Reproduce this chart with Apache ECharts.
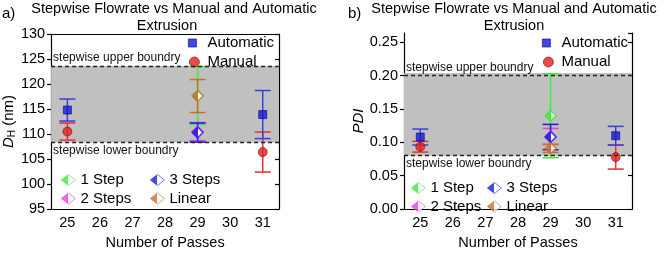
<!DOCTYPE html>
<html>
<head>
<meta charset="utf-8">
<script src="https://cdn.jsdelivr.net/npm/echarts@6/dist/echarts.min.js"></script>
<style>
  html, body { margin: 0; padding: 0; background: #fff; }
  #chart { width: 666px; height: 255px; }
</style>
</head>
<body>
<div id="chart"></div>
<script>
// x axis categories (number of passes)
const xCats = ["25", "26", "27", "28", "29", "30", "31"];

// panel a) hydrodynamic diameter D_H (nm)
const autoPasses = [25, 31];
const autoDH = [114.8, 113.9];
const autoDHErr = [2.2, 4.8];
const manualPasses = [25, 31];
const manualDH = [110.5, 106.4];
const manualDHErr = [1.7, 4.0];
const stepPasses = [29];
const step1DH = [117.7];
const step1DHErr = [5.8];
const step2DH = [110.5];
const step2DHErr = [1.8];
const step3DH = [110.3];
const step3DHErr = [1.9];
const linearDH = [117.6];
const linearDHErr = [3.3];
const boundsDH = [108.3, 123.6];

// panel b) PDI
const autoPDI = [0.108, 0.110];
const autoPDIErr = [0.012, 0.014];
const manualPDI = [0.0935, 0.078];
const manualPDIErr = [0.008, 0.018];
const step1PDI = [0.140];
const step1PDIErr = [0.063];
const step2PDI = [0.109];
const step2PDIErr = [0.012];
const step3PDI = [0.108];
const step3PDIErr = [0.019];
const linearPDI = [0.091];
const linearPDIErr = [0.006];
const boundsPDI = [0.080, 0.204];

const FONT = '"Liberation Sans", Arial, sans-serif';
const C = {
  auto: "#1818d8", autoErr: "#3c3ce0",
  manual: "#e41e1e", manualErr: "#e83030",
  s1: "#3cec3c", s2: "#f03cf0", s3: "#1c1ce6", lin: "#c8702a",
  band: "#c0c0c0"
};

const chart = echarts.init(document.getElementById("chart"));

function idx(p) { return xCats.indexOf(String(p)); }

function halfFill(c) {
  return new echarts.graphic.LinearGradient(0, 0, 1, 0, [
    { offset: 0, color: c }, { offset: 0.5, color: c },
    { offset: 0.5, color: "#fff" }, { offset: 1, color: "#fff" }
  ]);
}

function errSeries(name, passes, vals, errs, color, gi) {
  return {
    type: "custom",
    name: name + " err",
    xAxisIndex: gi * 2,
    yAxisIndex: gi * 2,
    silent: true,
    data: passes.map(function (p, i) { return [idx(p), vals[i] - errs[i], vals[i] + errs[i]]; }),
    encode: { x: 0, y: [1, 2] },
    renderItem: function (params, api) {
      var x = api.value(0);
      var a = api.coord([x, api.value(1)]);
      var b = api.coord([x, api.value(2)]);
      var w = 8;
      var st = { stroke: color, lineWidth: 1.5 };
      return {
        type: "group",
        children: [
          { type: "line", shape: { x1: a[0], y1: a[1], x2: b[0], y2: b[1] }, style: st },
          { type: "line", shape: { x1: a[0] - w, y1: a[1], x2: a[0] + w, y2: a[1] }, style: st },
          { type: "line", shape: { x1: b[0] - w, y1: b[1], x2: b[0] + w, y2: b[1] }, style: st }
        ]
      };
    }
  };
}

function markSeries(name, passes, vals, symbol, size, itemStyle, gi) {
  return {
    type: "scatter",
    name: name,
    xAxisIndex: gi * 2,
    yAxisIndex: gi * 2,
    symbol: symbol,
    symbolSize: size,
    itemStyle: itemStyle,
    data: passes.map(function (p, i) { return [idx(p), vals[i]]; })
  };
}

function bandSeries(bounds, gi) {
  return {
    type: "scatter",
    name: "band" + gi,
    xAxisIndex: gi * 2,
    yAxisIndex: gi * 2,
    data: [],
    z: 1,
    silent: true,
    markArea: {
      silent: true,
      itemStyle: { color: C.band },
      data: [[{ yAxis: bounds[0] }, { yAxis: bounds[1] }]]
    },
    markLine: {
      silent: true,
      symbol: "none",
      lineStyle: { color: "#222", type: [4, 3], width: 1.4 },
      data: [
        { yAxis: bounds[1], label: { position: "insideStartTop", formatter: "stepwise upper boundry", distance: [2, 2] } },
        { yAxis: bounds[0], label: { position: "insideStartBottom", formatter: "stepwise lower boundry", distance: [2, 2] } }
      ],
      label: { color: "#111", fontSize: 12, fontFamily: FONT }
    }
  };
}

function panelSeries(gi, d) {
  return [
    bandSeries(d.bounds, gi),
    errSeries("1 Step", stepPasses, d.s1, d.s1e, C.s1, gi),
    errSeries("2 Steps", stepPasses, d.s2, d.s2e, C.s2, gi),
    errSeries("3 Steps", stepPasses, d.s3, d.s3e, C.s3, gi),
    errSeries("Linear", stepPasses, d.lin, d.line, C.lin, gi),
    errSeries("Manual", manualPasses, d.man, d.mane, C.manualErr, gi),
    errSeries("Automatic", autoPasses, d.auto, d.autoe, C.autoErr, gi),
    markSeries("1 Step", stepPasses, d.s1, "diamond", 11, { color: halfFill(C.s1), borderColor: C.s1, borderWidth: 1.5 }, gi),
    markSeries("2 Steps", stepPasses, d.s2, "diamond", 11, { color: halfFill(C.s2), borderColor: C.s2, borderWidth: 1.5 }, gi),
    markSeries("3 Steps", stepPasses, d.s3, "diamond", 11, { color: halfFill(C.s3), borderColor: C.s3, borderWidth: 1.5 }, gi),
    markSeries("Linear", stepPasses, d.lin, "diamond", 11, { color: halfFill(C.lin), borderColor: C.lin, borderWidth: 1.5 }, gi),
    markSeries("Manual", manualPasses, d.man, "circle", 9, { color: C.manual, borderColor: "#8a0a0a", borderWidth: 0.8 }, gi),
    markSeries("Automatic", autoPasses, d.auto, "rect", 8, { color: C.auto, borderColor: "#0a0a80", borderWidth: 0.8 }, gi)
  ];
}

const axisText = { color: "#000", fontSize: 14.5, fontFamily: FONT };
const black = { color: "#000", width: 1.2 };

function xAxes(gi) {
  return [
    {
      type: "category", gridIndex: gi, data: xCats, boundaryGap: true,
      axisLine: { lineStyle: black },
      axisTick: { alignWithLabel: true, length: 4, lineStyle: black },
      axisLabel: Object.assign({ margin: 6 }, axisText),
      splitLine: { show: false },
      name: "Number of Passes", nameLocation: "middle", nameGap: 21,
      nameTextStyle: axisText
    },
    {
      type: "category", gridIndex: gi, data: xCats, boundaryGap: true, position: "top",
      axisLine: { lineStyle: black },
      axisTick: { alignWithLabel: true, inside: true, length: 4, lineStyle: black },
      axisLabel: { show: false }, splitLine: { show: false }
    }
  ];
}

function yAxes(gi, min, max, interval, fmt, name, nameGap, nameStyle) {
  return [
    {
      type: "value", gridIndex: gi, min: min, max: max, interval: interval,
      axisLine: { show: true, lineStyle: black },
      axisTick: { show: true, length: 4, lineStyle: black },
      axisLabel: Object.assign({ margin: 6, formatter: fmt, showMaxLabel: max % interval === 0 }, axisText),
      splitLine: { show: false },
      name: name, nameLocation: "middle", nameGap: nameGap, nameTextStyle: nameStyle
    },
    {
      type: "value", gridIndex: gi, min: min, max: max, interval: interval, position: "right",
      axisLine: { show: true, lineStyle: black },
      axisTick: { show: true, inside: true, length: 4, lineStyle: black },
      axisLabel: { show: false }, splitLine: { show: false }
    }
  ];
}

function legends(topLeft, lowLeft1, lowLeft2, topY, lowY) {
  var base = {
    orient: "vertical", padding: 0, selectedMode: false,
    itemStyle: { borderWidth: 0.8 },
    textStyle: { color: "#000", fontSize: 15, fontFamily: FONT }
  };
  var txt = function (pad) { return { color: "#000", fontSize: 15, fontFamily: FONT, padding: [0, 0, 0, pad] }; };
  return [
    Object.assign({}, base, { left: topLeft, top: topY, itemWidth: 8, itemHeight: 8, textStyle: txt(6), data: ["Automatic"] }),
    Object.assign({}, base, { left: topLeft + 1, top: topY + 19, itemWidth: 10, itemHeight: 10, textStyle: txt(3), data: ["Manual"] }),
    Object.assign({}, base, { left: lowLeft1, top: lowY, itemWidth: 14, itemHeight: 11, itemGap: 3.5, data: ["1 Step", "2 Steps"] }),
    Object.assign({}, base, { left: lowLeft2, top: lowY, itemWidth: 14, itemHeight: 11, itemGap: 3.5, data: ["3 Steps", "Linear"] })
  ];
}

const titleStyle = { color: "#000", fontSize: 14.5, fontWeight: "normal", fontFamily: FONT };

const dataA = {
  bounds: boundsDH, auto: autoDH, autoe: autoDHErr, man: manualDH, mane: manualDHErr,
  s1: step1DH, s1e: step1DHErr, s2: step2DH, s2e: step2DHErr,
  s3: step3DH, s3e: step3DHErr, lin: linearDH, line: linearDHErr
};
const dataB = {
  bounds: boundsPDI, auto: autoPDI, autoe: autoPDIErr, man: manualPDI, mane: manualPDIErr,
  s1: step1PDI, s1e: step1PDIErr, s2: step2PDI, s2e: step2PDIErr,
  s3: step3PDI, s3e: step3PDIErr, lin: linearPDI, line: linearPDIErr
};

chart.setOption({
  animation: false,
  title: [
    { text: "a)", left: 2, top: 6, padding: 0, textStyle: Object.assign({}, titleStyle, { fontSize: 15 }) },
    { text: "Stepwise Flowrate vs Manual and Automatic", left: 174, top: 1, padding: 0, textAlign: "center", textStyle: titleStyle },
    { text: "Extrusion", left: 167, top: 18, padding: 0, textAlign: "center", textStyle: titleStyle },
    { text: "b)", left: 348, top: 6, padding: 0, textStyle: Object.assign({}, titleStyle, { fontSize: 15 }) },
    { text: "Stepwise Flowrate vs Manual and Automatic", left: 514, top: 1, padding: 0, textAlign: "center", textStyle: titleStyle },
    { text: "Extrusion", left: 514, top: 18, padding: 0, textAlign: "center", textStyle: titleStyle }
  ],
  grid: [
    { left: 51, top: 34, width: 228, height: 184 },
    { left: 404, top: 33, width: 228, height: 184 }
  ],
  legend: legends(188, 61, 150, 35.5, 172.5).concat(legends(542, 411, 487, 35.5, 180.5)),
  xAxis: xAxes(0).concat(xAxes(1)),
  yAxis: yAxes(0, 95, 130, 5, function (v) { return String(v); }, "{i|D}{s|H}{n| (nm)}", 32, {
    color: "#000", fontFamily: FONT,
    rich: {
      i: { fontStyle: "italic", fontSize: 15, fontFamily: FONT, color: "#000" },
      s: { fontSize: 10, fontFamily: FONT, color: "#000", padding: [7, 0, 0, 0] },
      n: { fontSize: 15, fontFamily: FONT, color: "#000" }
    }
  }).concat(yAxes(1, 0, 0.264, 0.05, function (v) { return v.toFixed(2); }, "PDI", 38, {
    color: "#000", fontFamily: FONT, fontSize: 15, fontStyle: "italic"
  })),
  series: panelSeries(0, dataA).concat(panelSeries(1, dataB))
});
</script>
</body>
</html>
